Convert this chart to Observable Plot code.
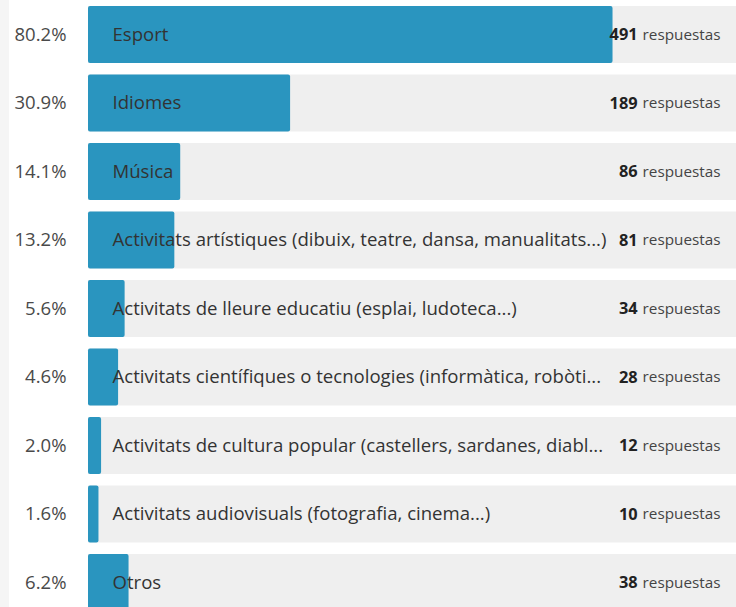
<!DOCTYPE html>
<html><head><meta charset="utf-8">
<script src="https://cdn.jsdelivr.net/npm/d3@7"></script>
<script src="https://cdn.jsdelivr.net/npm/@observablehq/plot@0.6"></script>
<style>
body{margin:0;background:linear-gradient(to right,#f5f5f5 0,#f5f5f5 9px,#fff 9px);}
#chart{width:736px;height:607px;overflow:hidden;}
#chart svg{overflow:hidden;}
</style></head><body><div id="chart"></div>
<script>
const categories = [
  "Esport",
  "Idiomes",
  "Música",
  "Activitats artístiques (dibuix, teatre, dansa, manualitats...)",
  "Activitats de lleure educatiu (esplai, ludoteca...)",
  "Activitats científiques o tecnologies (informàtica, robòti...",
  "Activitats de cultura popular (castellers, sardanes, diabl...",
  "Activitats audiovisuals (fotografia, cinema...)",
  "Otros"
];
const percents = [80.2, 30.9, 14.1, 13.2, 5.6, 4.6, 2.0, 1.6, 6.2];
const counts = [491, 189, 86, 81, 34, 28, 12, 10, 38];
const unitLabel = "respuestas";
const xMax = 99.08; // visible part of the 0–100% track

const data = categories.map((c, i) => ({category: c, pct: percents[i], count: counts[i]}));

const FONT = '"Open Sans", sans-serif';
const ctx = document.createElement("canvas").getContext("2d");
function fitSize(text, weight, target) {
  ctx.font = `${weight} 100px ${FONT}`;
  return 100 * target / ctx.measureText(text).width;
}
function measure(text, weight, size) {
  ctx.font = `${weight} ${size}px ${FONT}`;
  return ctx.measureText(text).width;
}
const catSize = fitSize(categories[3], "normal", 494);
const pctSize = fitSize("80.2%", "normal", 52);
const unitSize = fitSize(unitLabel, "normal", 78);
const numSize = fitSize("491", "bold", 28);
const unitW = measure(unitLabel, "normal", unitSize);

const chart = Plot.plot({
  width: 736,
  height: 607,
  marginLeft: 88,
  marginRight: 0,
  marginTop: 0,
  marginBottom: 0,
  style: {fontFamily: FONT, background: "transparent"},
  x: {domain: [0, xMax], axis: null},
  y: {domain: categories, range: [6, 611], paddingInner: 0.168, paddingOuter: 0, round: false, axis: null},
  marks: [
    Plot.barX(data, {x1: 0, x2: xMax, y: "category", fill: "#efefef"}),
    Plot.barX(data, {x1: 0, x2: "pct", y: "category", fill: "#2a95bf", rx: 2}),
    Plot.text(data, {x: 0, y: "category", text: d => d.pct.toFixed(1) + "%", textAnchor: "end", dx: -22, fontSize: pctSize, fill: "#4a4a4a"}),
    Plot.text(data, {x: 0, y: "category", text: "category", textAnchor: "start", dx: 24, fontSize: catSize, fill: "#333"}),
    Plot.text(data, {x: xMax, y: "category", text: () => unitLabel, textAnchor: "end", dx: -16, fontSize: unitSize, fill: "#444"}),
    Plot.text(data, {x: xMax, y: "category", text: d => String(d.count), textAnchor: "end", dx: -16 - unitW - 5, fontSize: numSize, fontWeight: "bold", fill: "#222"})
  ]
});
document.getElementById("chart").appendChild(chart);
</script>
</body></html>
